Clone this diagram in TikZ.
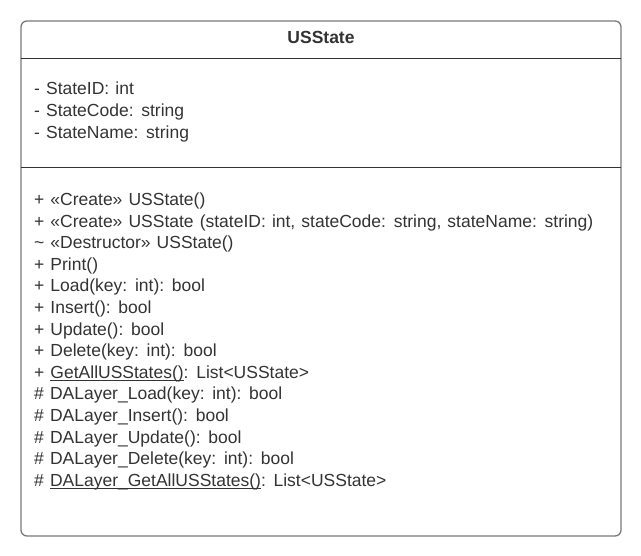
\documentclass[tikz,border=0pt]{standalone}
\usepackage{fontspec}
\setmainfont[WordSpace=1.25]{Liberation Sans}
\definecolor{txt}{HTML}{333333}
\definecolor{frame}{HTML}{7A7A7A}
\definecolor{rule}{HTML}{333333}
% underline sitting just below the baseline (UML static members)
\newcommand\staticul[1]{\setbox0\hbox{#1}\rlap{\rule[-2.6pt]{\wd0}{1.3pt}}\box0}
\tikzset{
  member/.style={anchor=base west, inner sep=0pt, text=txt, font=\fontsize{17.5}{20}\selectfont},
  title/.style={anchor=base, inner sep=0pt, text=txt, font=\fontsize{17.5}{20}\selectfont\bfseries},
  classbox/.style={draw=frame, line width=1.3pt, rounded corners=6pt},
  divider/.style={draw=rule, line width=0.9pt}
}
\begin{document}
\begin{tikzpicture}[x=1pt,y=-1pt]
\useasboundingbox (0,0) rectangle (641,556);
% class frame
\draw[classbox] (21,21) rectangle (621,536);
\coordinate (d1l) at (21,58);  \coordinate (d1r) at (621,58);
\coordinate (d2l) at (21,167); \coordinate (d2r) at (621,167);
\draw[divider] (d1l) -- (d1r);
\draw[divider] (d2l) -- (d2r);
% class name
\node[title] (name) at (321,44) {USState};
% attributes
\node[member] (a1) at (34,94.7) {- StateID: int};
\node[member] (a2) at (34,116.4) {- StateCode: string};
\node[member] (a3) at (34,138.1) {- StateName: string};
% operations
\node[member] (m1)  at (34,205.6) {+ «Create» USState()};
\node[member] (m2)  at (34,227.2) {+ «Create» USState (stateID: int, stateCode: string, stateName: string)};
\node[member] (m3)  at (34,248.8) {\textasciitilde\ «Destructor» USState()};
\node[member] (m4)  at (34,270.4) {+ Print()};
\node[member] (m5)  at (34,292.0) {+ Load(key: int): bool};
\node[member] (m6)  at (34,313.6) {+ Insert(): bool};
\node[member] (m7)  at (34,335.2) {+ Update(): bool};
\node[member] (m8)  at (34,356.8) {+ Delete(key: int): bool};
\node[member] (m9)  at (34,378.4) {+ \staticul{GetAllUSStates()}: List<USState>};
\node[member] (m10) at (34,400.0) {\# DALayer\_Load(key: int): bool};
\node[member] (m11) at (34,421.6) {\# DALayer\_Insert(): bool};
\node[member] (m12) at (34,443.2) {\# DALayer\_Update(): bool};
\node[member] (m13) at (34,464.8) {\# DALayer\_Delete(key: int): bool};
\node[member] (m14) at (34,486.4) {\# \staticul{DALayer\_GetAllUSStates()}: List<USState>};
\end{tikzpicture}
\end{document}
